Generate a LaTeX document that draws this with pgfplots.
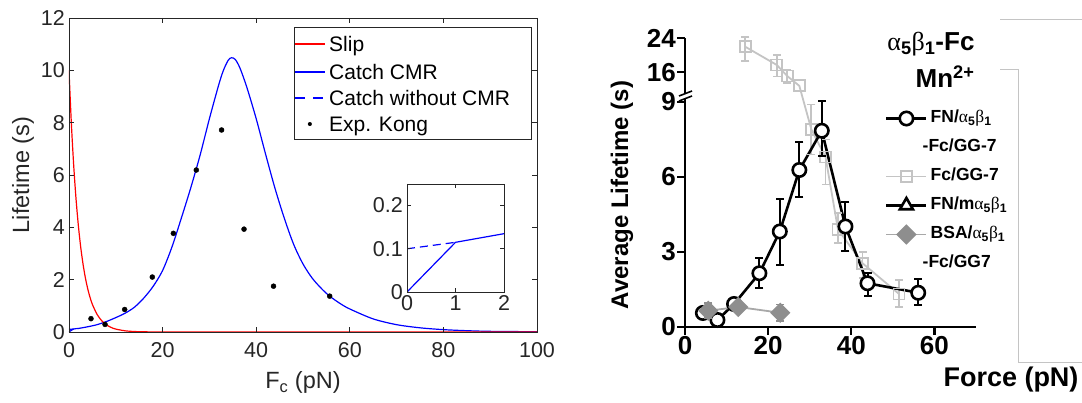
\documentclass[border=0pt]{standalone}
\usepackage{pgfplots}
\pgfplotsset{compat=1.18}
\usepackage{fontspec}
\setmainfont{Liberation Sans}
\newfontfamily\greek{Liberation Serif}

\definecolor{mgray}{HTML}{262626}
\definecolor{lgray}{HTML}{C4C4C4}
\definecolor{dgray}{HTML}{8E8E8E}
\definecolor{bsaline}{HTML}{A8A8A8}
\definecolor{slipred}{HTML}{FF0000}
\definecolor{mblue}{HTML}{0000FF}

% alpha_a beta_b
\newcommand\ab[2]{{\mdseries\greek α}\textsubscript{#1}{\mdseries\greek β}\textsubscript{#2}}
% one error bar drawn as a vertical segment with caps
\newcommand\ebar[4]{\addplot[#1] coordinates {(#2,#3) (#2,#4)};}

\pgfplotsset{
  ebk/.style={black, line width=2pt, mark=-, mark size=4pt, forget plot},
  ebl/.style={lgray, line width=1.8pt, mark=-, mark size=4pt, forget plot},
  ebd/.style={dgray, line width=1.8pt, mark=-, mark size=4pt, forget plot},
}

\begin{document}
\begin{tikzpicture}
\useasboundingbox (0pt,0pt) rectangle (1082pt,403pt);

% ---------------- model vs experiment ----------------
\begin{axis}[
  at={(69pt,71pt)}, anchor=south west, scale only axis,
  width=468pt, height=314pt,
  xmin=0, xmax=100, ymin=0, ymax=12,
  xtick={0,20,...,100}, ytick={0,2,...,12},
  axis on top,
  axis line style={mgray, line width=0.7pt},
  every tick/.style={mgray, line width=0.7pt},
  major tick length=5pt, tick align=inside,
  /pgf/number format/assume math mode=true,
  ticklabel style={font=\fontsize{21.5}{25}\selectfont, text=mgray},
  xticklabel style={yshift=-7pt},
  yticklabel style={inner xsep=4pt},
  xlabel={F\textsubscript{c} (pN)}, ylabel={Lifetime (s)},
  label style={font=\fontsize{23.5}{27}\selectfont, text=mgray},
  xlabel style={at={(axis description cs:0.5,-0.162)}, anchor=center},
  ylabel style={at={(axis description cs:-0.098,0.5)}, anchor=center},
]
\addplot[mblue, line width=1.2pt, smooth] coordinates {
  (0,0) (1,0.115) (2,0.135) (4,0.2) (6,0.28) (8,0.4) (10,0.55) (12,0.72)
  (14,0.95) (16,1.3) (18,1.75) (20,2.35) (22,3.25) (24,4.35) (26,5.5)
  (28,6.75) (30,8.15) (32,9.45) (33,10.0) (34,10.38) (34.7,10.48)
  (35.5,10.42) (36.5,10.1) (38,9.35) (40,8.15) (42,6.8) (44,5.5) (46,4.35)
  (48,3.35) (50,2.6) (52,2.05) (54,1.65) (55.7,1.37) (58,1.08) (60,0.88)
  (65,0.5) (70,0.28) (75,0.16) (80,0.09) (85,0.05) (90,0.025) (100,0.01)};
\addplot[mblue, line width=1.2pt, dash pattern=on 9pt off 6pt]
  coordinates {(0,0.1) (1,0.115)};
\addplot[slipred, line width=1.2pt, smooth] coordinates {
  (0,10) (0.5,7.985) (1,6.376) (1.5,5.092) (2,4.066) (2.5,3.247) (3,2.592)
  (3.5,2.070) (4,1.653) (4.5,1.320) (5,1.054) (6,0.672) (7,0.429) (8,0.273)
  (9,0.174) (10,0.111) (12,0.045) (14,0.018) (16,0.0075) (20,0.001) (30,0) (100,0)};
\addplot[only marks, mark=*, mark size=2.5pt, black] coordinates {
  (4.7,0.51) (7.7,0.29) (11.9,0.86) (17.8,2.1) (22.3,3.77) (27.2,6.19)
  (32.6,7.72) (37.4,3.93) (43.7,1.75) (55.7,1.37)};
\end{axis}

% legend of the model panel
\draw[mgray, line width=0.7pt] (294pt,264pt) rectangle (531pt,376pt);
\draw[slipred, line width=1.2pt] (295pt,359pt) -- (325pt,359pt);
\draw[mblue, line width=1.2pt] (295pt,331pt) -- (325pt,331pt);
\draw[mblue, line width=1.2pt] (295pt,305pt) -- (305pt,305pt) (313pt,305pt) -- (323pt,305pt);
\begin{scope}[every node/.style={anchor=base west, inner sep=0pt, font=\fontsize{21}{24}\selectfont}]
  \node at (329pt,351.5pt) {Slip};
  \node at (329pt,323.5pt) {Catch CMR};
  \node at (329pt,297.5pt) {Catch without CMR};
  \node at (329pt,271.5pt) {Exp. Kong};
  \node[anchor=base, font=\fontsize{15}{15}\selectfont] at (310pt,273.4pt) {•};
\end{scope}

% ---------------- inset: low force detail ----------------
\begin{axis}[
  at={(407pt,111pt)}, anchor=south west, scale only axis,
  width=97pt, height=108pt,
  xmin=0, xmax=2, ymin=0, ymax=0.25,
  xtick={0,1,2}, ytick={0,0.1,0.2},
  axis background/.style={fill=white},
  axis on top,
  axis line style={mgray, line width=0.7pt},
  every tick/.style={mgray, line width=0.7pt},
  major tick length=4pt, tick align=inside,
  /pgf/number format/assume math mode=true,
  ticklabel style={font=\fontsize{21.5}{25}\selectfont, text=mgray},
  yticklabel style={inner xsep=4pt},
]
\addplot[mblue, line width=1.2pt] coordinates {(0,0) (1,0.115) (2,0.135)};
\addplot[mblue, line width=1.2pt, dash pattern=on 8pt off 5pt] coordinates {(0,0.1) (1,0.115)};
\end{axis}

% ---------------- measured lifetimes ----------------
\begin{axis}[
  at={(685pt,76pt)}, anchor=south west, scale only axis,
  width=291pt, height=288.75pt,
  xmin=0, xmax=70, ymin=0, ymax=24,
  y coord trafo/.code={\pgfmathparse{min(#1,9)+0.17*max(#1-9,0)}},
  axis lines=left,
  axis line style={-, line width=2.4pt, black},
  every tick/.style={black, line width=2.4pt},
  major tick length=8pt, tick align=outside,
  xtick={0,20,40,60}, xticklabels={0,20,40,60},
  ytick={0,3,6,9,16,24}, yticklabels={0,3,6,9,16,24},
  ticklabel style={font=\fontsize{26}{30}\selectfont\bfseries},
  xticklabel style={inner ysep=1pt},
  yticklabel style={inner xsep=1pt},
  clip=false,
  legend cell align=left,
  legend style={at={(axis description cs:0.687,0.773)}, anchor=north west,
    draw=none, fill=none, font=\fontsize{17.5}{24}\selectfont\bfseries,
    inner xsep=0pt, inner ysep=0pt,
    nodes={text height=14pt, text depth=5pt, inner ysep=5pt, inner xsep=3pt}},
  legend image code/.code={\draw[mark repeat=2, mark phase=2, #1]
    plot coordinates {(0pt,0pt) (20pt,0pt) (40pt,0pt)};},
]
\addlegendimage{black, line width=2.6pt, mark=*, mark size=6.7pt, mark options={fill=white}}
\addlegendentry{FN/\ab51}
\addlegendimage{empty legend}
\addlegendentry{\hspace*{-8pt}-Fc/GG-7}
\addlegendimage{lgray, line width=1.8pt, mark=square, mark size=5.5pt, mark options={fill=white}}
\addlegendentry{Fc/GG-7}
\addlegendimage{black, line width=2.6pt, mark=triangle*, mark size=7.5pt, mark options={fill=white}}
\addlegendentry{FN/m\ab51}
\addlegendimage{bsaline, line width=1.8pt, mark=square*, mark size=6.3pt, mark options={fill=dgray, draw=dgray, rotate=45}}
\addlegendentry{BSA/\ab51}
\addlegendimage{empty legend}
\addlegendentry{\hspace*{-8pt}-Fc/GG7}

% Fc/GG-7 control
\ebar{ebl}{14.5}{18.6}{24.2}
\ebar{ebl}{22.1}{15.0}{20.0}
\ebar{ebl}{24.6}{13.4}{16.5}
\ebar{ebl}{30.4}{6.9}{8.9}
\ebar{ebl}{33.8}{5.7}{7.5}
\ebar{ebl}{36.8}{3.35}{4.55}
\ebar{ebl}{42.7}{1.95}{3.0}
\ebar{ebl}{51.5}{0.8}{1.88}
\addplot[lgray, line width=1.8pt, mark=square, mark size=5.5pt, forget plot] coordinates {
  (14.5,22.0) (22.1,17.7) (24.6,15.1) (27.5,12.8) (30.4,7.9) (33.8,6.8)
  (36.8,3.9) (42.7,2.55) (51.5,1.32)};

% FN / alpha5beta1-Fc / GG-7
\ebar{ebk}{11.8}{0.78}{1.07}
\ebar{ebk}{17.9}{1.55}{2.75}
\ebar{ebk}{22.8}{2.48}{5.12}
\ebar{ebk}{27.5}{5.2}{7.4}
\ebar{ebk}{32.9}{6.85}{9.15}
\ebar{ebk}{38.6}{3.05}{5.0}
\ebar{ebk}{43.9}{1.24}{2.15}
\ebar{ebk}{56.1}{0.88}{1.9}
\addplot[black, line width=2.6pt, mark=*, mark size=6.7pt, mark options={fill=white}, forget plot] coordinates {
  (4.3,0.56) (7.8,0.28) (11.8,0.92) (17.9,2.15) (22.8,3.82) (27.5,6.28)
  (32.9,7.85) (38.6,4.02) (43.9,1.75) (56.1,1.37)};

% BSA / alpha5beta1-Fc / GG7
\ebar{ebd}{5.6}{0.35}{0.95}
\ebar{ebd}{22.9}{0.25}{0.9}
\addplot[bsaline, line width=1.8pt, mark=square*, mark size=6.3pt,
  mark options={fill=dgray, draw=dgray, rotate=45}, forget plot] coordinates {
  (5.6,0.65) (12.8,0.8) (22.9,0.57)};
\end{axis}

% axis break on the lifetime axis
\fill[white] (680pt,305pt) rectangle (691pt,310pt);
\draw[black, line width=1.6pt] (679pt,302pt) -- (692pt,307pt) (679pt,307pt) -- (692pt,312pt);

% labels and annotations of the measured panel
\node[rotate=90, font=\fontsize{24}{28}\selectfont\bfseries] at (622pt,208pt) {Average Lifetime (s)};
\node[font=\fontsize{27}{32}\selectfont\bfseries] at (1011pt,23pt) {Force (pN)};
\node[anchor=east, font=\fontsize{26}{30}\selectfont\bfseries] at (978pt,359pt) {\ab51-Fc};
\node[anchor=east, font=\fontsize{26}{30}\selectfont\bfseries] at (978pt,326pt) {Mn\textsuperscript{2+}};

% frame lines on the right margin
\draw[lgray, line width=1pt] (1000pt,383pt) -- (1082pt,383pt);
\draw[lgray, line width=1pt] (1000pt,333pt) -- (1018pt,333pt) -- (1018pt,40pt) -- (1082pt,40pt);
\end{tikzpicture}
\end{document}
